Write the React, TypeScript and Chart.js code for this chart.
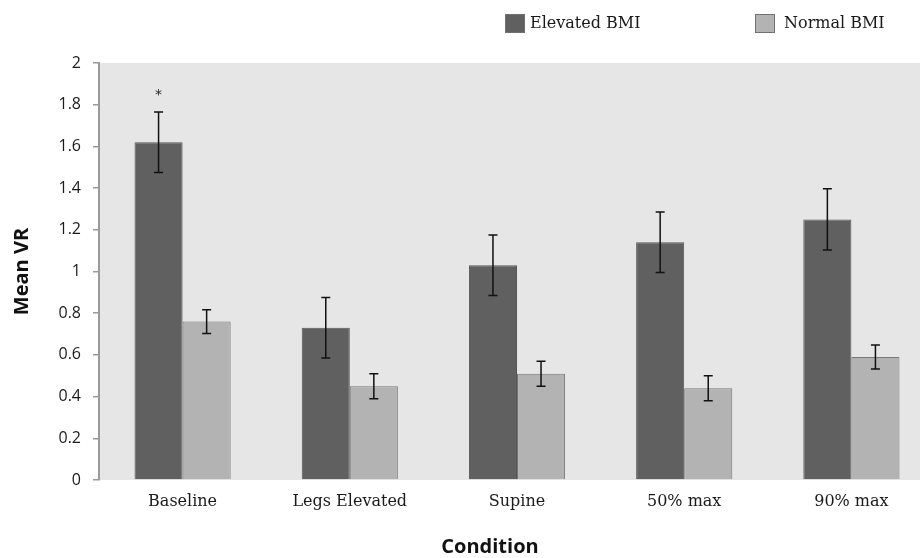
import React, { useEffect, useRef } from "react";
import { Chart, registerables } from "chart.js";

Chart.register(...registerables);

const categories = ["Baseline", "Legs Elevated", "Supine", "50% max", "90% max"];
const elevatedBMI = [1.62, 0.73, 1.03, 1.14, 1.25];
const elevatedErr = [0.145, 0.145, 0.145, 0.145, 0.147];
const normalBMI = [0.76, 0.45, 0.51, 0.44, 0.59];
const normalErr = [0.057, 0.06, 0.06, 0.06, 0.058];
const elevatedSig = ["*", "", "", "", ""];
const normalSig = ["", "", "", "", ""];
const seriesLabels = ["Elevated BMI", "Normal BMI"];
const yTitle = "Mean VR";
const xTitle = "Condition";

const errors = [elevatedErr, normalErr];
const sigs = [elevatedSig, normalSig];

const W = 935;
const H = 558;

const plotBg = {
  id: "plotBg",
  beforeDatasetsDraw(chart: any) {
    const { ctx, chartArea } = chart;
    ctx.save();
    ctx.fillStyle = "#e6e6e6";
    ctx.fillRect(chartArea.left + 1, chartArea.top, chart.width - chartArea.left, chartArea.bottom - chartArea.top);
    ctx.restore();
  },
};

const errorBars = {
  id: "errorBars",
  afterDatasetsDraw(chart: any) {
    const { ctx } = chart;
    const y = chart.scales.y;
    ctx.save();
    ctx.strokeStyle = "#111";
    ctx.lineWidth = 1.5;
    chart.data.datasets.forEach((ds: any, i: number) => {
      const meta = chart.getDatasetMeta(i);
      meta.data.forEach((bar: any, j: number) => {
        const v = ds.data[j];
        const e = errors[i][j];
        const yt = y.getPixelForValue(v + e);
        const yb = y.getPixelForValue(v - e);
        const x = bar.x;
        const cap = 4.5;
        ctx.beginPath();
        ctx.moveTo(x, yt);
        ctx.lineTo(x, yb);
        ctx.moveTo(x - cap, yt);
        ctx.lineTo(x + cap, yt);
        ctx.moveTo(x - cap, yb);
        ctx.lineTo(x + cap, yb);
        ctx.stroke();
        const s = sigs[i][j];
        if (s) {
          ctx.fillStyle = "#222";
          ctx.font = "14px 'DejaVu Sans'";
          ctx.textAlign = "center";
          ctx.textBaseline = "middle";
          ctx.fillText(s, x, yt - 17);
        }
      });
    });
    ctx.restore();
  },
};

const legendX = [505, 755];
const customLegend = {
  id: "customLegend",
  afterDraw(chart: any) {
    const { ctx } = chart;
    ctx.save();
    chart.data.datasets.forEach((ds: any, i: number) => {
      const x = legendX[i];
      ctx.fillStyle = ds.backgroundColor;
      ctx.fillRect(x, 14, 20, 19);
      ctx.strokeStyle = "#707070";
      ctx.lineWidth = 1;
      ctx.strokeRect(x + 0.5, 14.5, 19, 18);
      ctx.fillStyle = "#1a1a1a";
      ctx.font = "16px 'DejaVu Serif'";
      ctx.textAlign = "left";
      ctx.textBaseline = "middle";
      ctx.fillText(ds.label, x + (i === 0 ? 25 : 29), 24);
    });
    ctx.fillStyle = "#111";
    ctx.font = "bold 20px 'Open Sans'";
    ctx.textAlign = "center";
    ctx.textBaseline = "middle";
    ctx.fillText(xTitle, 490, 547);
    ctx.restore();
  },
};

export default function App() {
  const ref = useRef<HTMLCanvasElement>(null);
  useEffect(() => {
    if (!ref.current) return;
    const chart = new Chart(ref.current, {
      type: "bar",
      data: {
        labels: categories,
        datasets: [
          {
            label: seriesLabels[0],
            data: elevatedBMI,
            backgroundColor: "#606060",
            borderColor: "#555555",
            borderWidth: 1,
          },
          {
            label: seriesLabels[1],
            data: normalBMI,
            backgroundColor: "#b3b3b3",
            borderColor: "#787878",
            borderWidth: 1,
          },
        ],
      },
      options: {
        responsive: false,
        animation: false,
        layout: { padding: { top: 63, left: 0, right: 0, bottom: 0 } },
        plugins: {
          legend: { display: false },
          tooltip: { enabled: false },
        },
        datasets: {
          bar: { categoryPercentage: 0.575, barPercentage: 1 },
        },
        scales: {
          x: {
            grid: { display: false, drawTicks: false },
            border: { display: false },
            ticks: {
              padding: 12,
              color: "#1a1a1a",
              font: { family: "'DejaVu Serif'", size: 16 },
            },
            afterFit: (s: any) => {
              s.height = H - 480;
            },
          },
          y: {
            min: 0,
            max: 2,
            ticks: {
              stepSize: 0.2,
              padding: 12,
              color: "#1a1a1a",
              font: { family: "'Open Sans'", size: 16 },
              callback: (v: any) => String(Number(Number(v).toFixed(1))),
            },
            grid: {
              drawOnChartArea: false,
              drawTicks: true,
              tickLength: 6,
              color: "#9a9a9a",
              lineWidth: 1.5,
            },
            border: { display: true, color: "#9a9a9a", width: 2 },
            title: {
              display: true,
              text: yTitle,
              color: "#111",
              font: { family: "'Open Sans'", size: 20, weight: "bold" },
              padding: { top: 10, bottom: 0 },
            },
            afterFit: (s: any) => {
              s.width = 99;
            },
          },
        },
      },
      plugins: [plotBg, errorBars, customLegend],
    });
    return () => chart.destroy();
  }, []);
  return (
    <div
      style={{
        position: "fixed",
        left: 0,
        top: 0,
        width: 920,
        height: 558,
        overflow: "hidden",
        background: "#fff",
      }}
    >
      <canvas ref={ref} width={W} height={H} style={{ width: W, height: H, display: "block" }} />
    </div>
  );
}
